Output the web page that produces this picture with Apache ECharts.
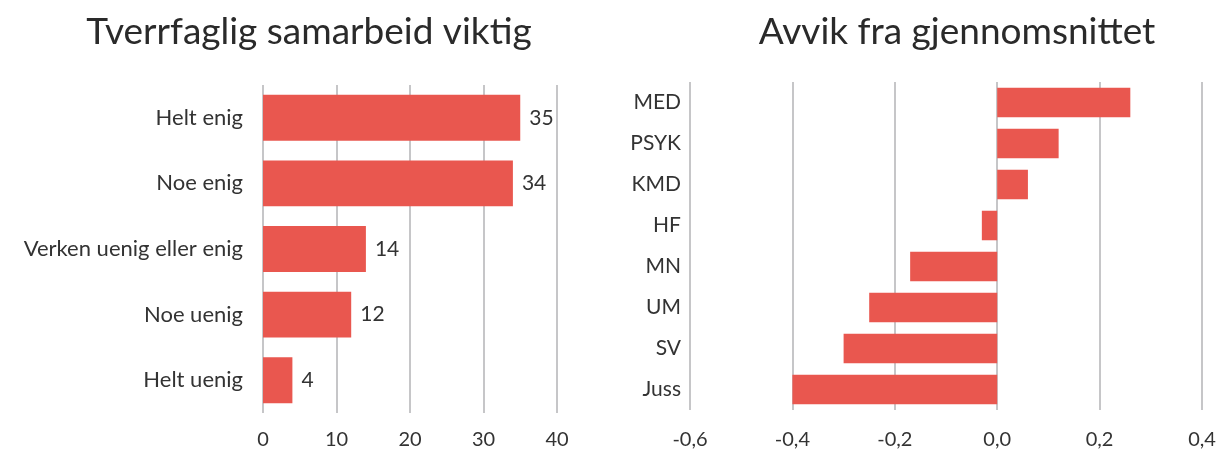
<!DOCTYPE html>
<html>
<head>
<meta charset="utf-8">
<script src="https://cdn.jsdelivr.net/npm/echarts@6/dist/echarts.min.js"></script>
<style>
  html, body { margin: 0; padding: 0; background: #fff; }
  #chart { width: 1220px; height: 451px; }
</style>
</head>
<body>
<div id="chart"></div>
<script>
// venstre: svarfordeling (prosent)
var svarKategorier = ['Helt enig', 'Noe enig', 'Verken uenig eller enig', 'Noe uenig', 'Helt uenig'];
var svarVerdier = [35, 34, 14, 12, 4];

// høyre: avvik per fakultet
var fakulteter = ['MED', 'PSYK', 'KMD', 'HF', 'MN', 'UM', 'SV', 'Juss'];
var avvik = [0.26, 0.12, 0.06, -0.03, -0.17, -0.25, -0.30, -0.40];

var red = '#E9574F';
var grey = '#C6C6C8';
var font = 'Lato';

var chart = echarts.init(document.getElementById('chart'));

chart.setOption({
  animation: false,
  textStyle: { fontFamily: font },
  title: [
    { text: 'Tverrfaglig samarbeid viktig', left: 304, top: 9, textAlign: 'center',
      textStyle: { fontSize: 37, fontWeight: 'normal', color: '#2a2a2a', fontFamily: font } },
    { text: 'Avvik fra gjennomsnittet', left: 952, top: 9, textAlign: 'center',
      textStyle: { fontSize: 37, fontWeight: 'normal', color: '#2a2a2a', fontFamily: font } }
  ],
  grid: [
    { left: 263, right: 663, top: 85, bottom: 38 },
    { left: 690, right: 18, top: 82, bottom: 41 }
  ],
  xAxis: [
    {
      gridIndex: 0, type: 'value', min: 0, max: 40, interval: 10,
      axisLine: { show: false }, axisTick: { show: false },
      splitLine: { lineStyle: { color: grey, width: 2 } },
      axisLabel: { fontSize: 20, color: '#333', margin: 17 }
    },
    {
      gridIndex: 1, type: 'value', min: -0.6, max: 0.4, interval: 0.2,
      axisLine: { show: false }, axisTick: { show: false },
      splitLine: { lineStyle: { color: grey, width: 2 } },
      axisLabel: {
        fontSize: 20, color: '#333', margin: 20,
        formatter: function (v) { return v.toFixed(1).replace('.', ','); }
      }
    }
  ],
  yAxis: [
    {
      gridIndex: 0, type: 'category', data: svarKategorier, inverse: true,
      axisLine: { show: false }, axisTick: { show: false },
      axisLabel: { fontSize: 22, color: '#333', margin: 20 }
    },
    {
      gridIndex: 1, type: 'category', data: fakulteter, inverse: true,
      axisLine: { show: false }, axisTick: { show: false },
      axisLabel: { fontSize: 21, color: '#333', margin: 9 }
    }
  ],
  series: [
    {
      type: 'bar', xAxisIndex: 0, yAxisIndex: 0, data: svarVerdier,
      barCategoryGap: '30%',
      itemStyle: { color: red },
      label: { show: true, position: 'right', distance: 9, fontSize: 21, color: '#333' }
    },
    {
      type: 'bar', xAxisIndex: 1, yAxisIndex: 1, data: avvik,
      barCategoryGap: '28%',
      itemStyle: { color: red }
    }
  ]
});
</script>
</body>
</html>
